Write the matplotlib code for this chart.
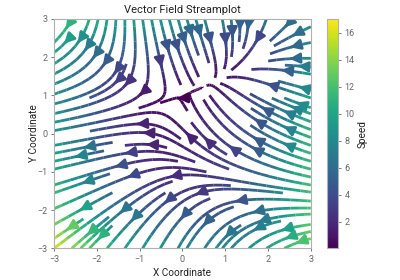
import matplotlib
matplotlib.use('Agg')
import matplotlib.pyplot as plt
import numpy as np

plt.rcParams['font.family'] = ['Roboto', 'DejaVu Sans']

# grid extent and resolution
x_range = [-3, 3]
y_range = [-3, 3]
n_points = 100

# field coefficients: U = a0 + a1*x^2 + a2*y, V = b0 + b1*x + b2*y^2
u_coef = [-1, -1, 1]
v_coef = [1, 1, -1]

x_ticks = [-3, -2, -1, 0, 1, 2, 3]
y_ticks = [-3, -2, -1, 0, 1, 2, 3]
cbar_ticks = [2, 4, 6, 8, 10, 12, 14, 16]

Y, X = np.mgrid[y_range[0]:y_range[1]:complex(n_points), x_range[0]:x_range[1]:complex(n_points)]
U = u_coef[0] + u_coef[1] * X**2 + u_coef[2] * Y
V = v_coef[0] + v_coef[1] * X + v_coef[2] * Y**2
speed = np.sqrt(U**2 + V**2)

fig = plt.figure(figsize=(4, 2.8), dpi=100)
ax = fig.add_axes([0.135, 0.113, 0.642, 0.82])
cax = fig.add_axes([0.817, 0.113, 0.029, 0.82])

strm = ax.streamplot(X, Y, U, V, color=speed, cmap='viridis',
                     linewidth=2, arrowsize=1.5, density=1)
ax.set_xlim(*x_range)
ax.set_ylim(*y_range)
ax.set_xticks(x_ticks)
ax.set_yticks(y_ticks)
ax.set_title('Vector Field Streamplot', fontsize=8, color='#222222', pad=4)
ax.set_xlabel('X Coordinate', fontsize=7.2, color='#222222', labelpad=3)
ax.set_ylabel('Y Coordinate', fontsize=7.2, color='#222222', labelpad=-1)

for a in [ax, cax]:
    for s in a.spines.values():
        s.set_color('#b0b0b0')
    a.tick_params(labelsize=6.5, colors='#666666', length=2.5, width=0.6, pad=2)

cb = fig.colorbar(strm.lines, cax=cax)
cb.set_ticks(cbar_ticks)
cb.set_label('Speed', fontsize=7.2, color='#222222', labelpad=2)
cb.outline.set_edgecolor('#b0b0b0')

fig.savefig('out.png', dpi=100)
